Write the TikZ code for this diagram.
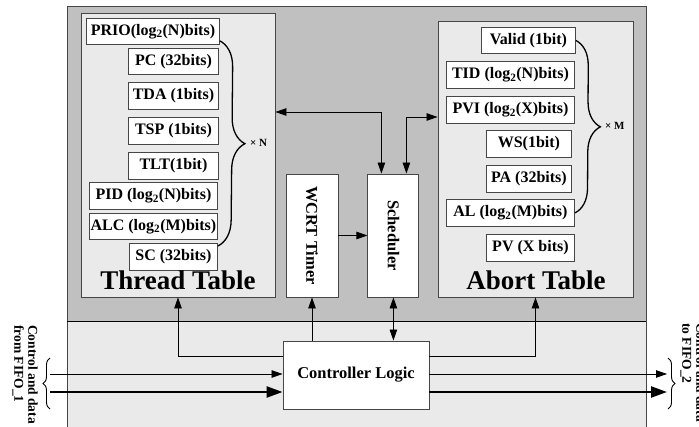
\documentclass[tikz,border=0pt]{standalone}
\usepackage{fontspec}
\setmainfont{Liberation Serif}
\usetikzlibrary{arrows.meta,calc,positioning}
\usetikzlibrary{decorations.pathreplacing}
\definecolor{boardgray}{RGB}{192,192,192}
\definecolor{panelgray}{RGB}{234,234,234}
\definecolor{edgegray}{RGB}{70,70,70}
\tikzset{
    >={Triangle[length=11pt,width=7.5pt]}, % arrow heads of the thin wires
    field/.style={draw=edgegray, line width=0.9pt, fill=white, anchor=north west, inner sep=0pt,
        minimum height=27pt, font=\fontsize{16}{18}\selectfont\bfseries},
    tablebox/.style={draw=edgegray, line width=0.9pt, fill=panelgray},
    block/.style={draw=edgegray, line width=0.9pt, fill=white, inner sep=0pt,
        font=\fontsize{16.5}{18}\selectfont\bfseries},
    tabletitle/.style={font=\fontsize{27}{30}\selectfont\bfseries, anchor=base, inner sep=0pt},
    mult/.style={font=\fontsize{11}{12}\selectfont\bfseries, anchor=west, inner sep=0pt},
    sidenote/.style={font=\fontsize{13.5}{14}\selectfont\bfseries, align=left, rotate=-90, inner sep=0pt},
    wire/.style={line width=0.8pt},
    bus/.style={line width=2.4pt, >={Triangle[length=16pt,width=11pt]}},
    fieldbrace/.style={decorate, line width=1.3pt, decoration={brace, amplitude=#1}},
    iobrace/.style={decorate, line width=0.9pt, decoration={brace, amplitude=7pt}},
}

\begin{document}
\begin{tikzpicture}[x=1pt,y=-1pt]
  \useasboundingbox (0,0) rectangle (699,427);

  % processor body and interface strip
  \fill[boardgray] (67,6) rectangle (646,321);
  \fill[panelgray] (67,321) rectangle (646,427);
  \draw[edgegray, line width=0.9pt] (67,427) -- (67,6) -- (646,6) -- (646,427);
  \draw[line width=0.9pt] (67,321) -- (646,321);

  % Thread Table
  \node[tablebox, minimum width=194pt, minimum height=284pt] (thrtab) at (178,155) {};
  \node[field, minimum width=133pt, minimum height=26pt] (prio) at (86,18) {PRIO(log\textsubscript{2}(N)bits)};
  \node[field, minimum width=90pt, minimum height=26pt] (pc) at (128,48) {PC (32bits)};
  \node[field, minimum width=90pt] (tda) at (128,82) {TDA (1bits)};
  \node[field, minimum width=90pt] (tsp) at (128,117) {TSP (1bits)};
  \node[field, minimum width=90pt] (tlt) at (128,152) {TLT(1bit)};
  \node[field, minimum width=128pt] (pid) at (89,182) {PID (log\textsubscript{2}(N)bits)};
  \node[field, minimum width=128pt, minimum height=26pt] (alc) at (89,213) {ALC (log\textsubscript{2}(M)bits)};
  \node[field, minimum width=88pt] (sc) at (129,243) {SC (32bits)};
  \node[tabletitle] (thrname) at (178,290) {Thread Table};
  \draw[fieldbrace=26pt] ([yshift=4pt]prio.south east) -- ([yshift=-3pt]sc.north east);
  \node[mult] (timesn) at (250,143) {× N};

  % Abort Table
  \node[tablebox, minimum width=195pt, minimum height=276pt] (abtab) at (535.5,159) {};
  \node[field, minimum width=94pt, minimum height=26pt] (valid) at (481,27) {Valid (1bit)};
  \node[field, minimum width=128pt] (tid) at (446,61) {TID (log\textsubscript{2}(N)bits)};
  \node[field, minimum width=128pt] (pvi) at (446,96) {PVI (log\textsubscript{2}(X)bits)};
  \node[field, minimum width=85pt] (ws) at (486,130) {WS(1bit)};
  \node[field, minimum width=85pt] (pa) at (486,165) {PA (32bits)};
  \node[field, minimum width=128pt] (al) at (446,199) {AL (log\textsubscript{2}(M)bits)};
  \node[field, minimum width=88pt] (pv) at (486,234) {PV (X bits)};
  \node[tabletitle] (abname) at (536,290) {Abort Table};
  \draw[fieldbrace=25pt] (valid.east) -- (al.east);
  \node[mult] (timesm) at (605,126) {× M};

  % timer, scheduler and controller
  \node[block, minimum width=52pt, minimum height=123pt] (wcrt) at (312,235.5) {\rotatebox{-90}{WCRT Timer}};
  \node[block, minimum width=51pt, minimum height=123pt, right=29pt of wcrt] (sched) {\rotatebox{-90}{Scheduler}};
  \node[block, minimum width=146pt, minimum height=68pt] (ctrl) at (356,375) {Controller Logic};

  \draw[wire,<->] (thrtab.east |- 0,112) -| ([xshift=-12pt]sched.north);
  \draw[wire,<->] ([xshift=13pt]sched.north) |- (abtab.west |- 0,117);
  \draw[wire,->] (wcrt) -- (sched);
  \draw[wire,->] ([yshift=-16pt]ctrl.north west) -| (thrtab.south);
  \draw[wire,->] (ctrl.north -| wcrt) -- (wcrt.south);
  \draw[wire,<->] (sched.south) -- (sched.south |- ctrl.north);
  \draw[wire,->] ([yshift=-16pt]ctrl.north east) -| (abtab.south);

  % FIFO side
  \coordinate (inthin) at (50,374);
  \coordinate (inbus) at (50,392);
  \coordinate (outthin) at (667,374);
  \coordinate (outbus) at (667,392);
  \draw[wire,->] (inthin) -- (inthin -| ctrl.west);
  \draw[bus,->] (inbus) -- (inbus -| ctrl.west);
  \draw[wire,->] (inthin -| ctrl.east) -- (outthin);
  \draw[bus,->] (inbus -| ctrl.east) -- (outbus);
  \coordinate (intop) at (50,358);
  \coordinate (inbot) at (50,409);
  \coordinate (outtop) at (668,358);
  \coordinate (outbot) at (668,409);
  \draw[iobrace] (inbot) -- (intop);
  \draw[iobrace] (outtop) -- (outbot);
  \node[sidenote, anchor=north west] (fromfifo) at (38,325) {Control and data\\from FIFO\_1};
  \node[sidenote, anchor=north west] (tofifo) at (706,323) {Control and data\\to FIFO\_2};
\end{tikzpicture}
\end{document}
